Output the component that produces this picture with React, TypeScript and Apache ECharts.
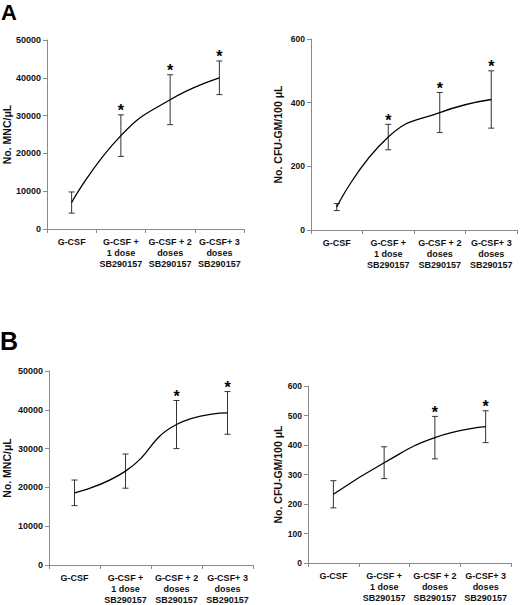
import { useEffect, useRef } from "react";
import * as echarts from "echarts";

const CATEGORIES = [
  "G-CSF",
  "G-CSF +\n1 dose\nSB290157",
  "G-CSF + 2\ndoses\nSB290157",
  "G-CSF+ 3\ndoses\nSB290157",
];

// Panel A
const MNC_A_MEAN = [7000, 24700, 34200, 40000];
const MNC_A_ERR = [2800, 5500, 6600, 4450];
const MNC_A_SIG = [0, 1, 1, 1];

const CFU_A_MEAN = [72, 292, 369, 410];
const CFU_A_ERR = [11, 40, 63, 90];
const CFU_A_SIG = [0, 1, 1, 1];

// Panel B
const MNC_B_MEAN = [18600, 24200, 36200, 39200];
const MNC_B_ERR = [3300, 4400, 6200, 5500];
const MNC_B_SIG = [0, 0, 1, 1];

const CFU_B_MEAN = [233, 340, 425, 462];
const CFU_B_ERR = [46, 54, 72, 54];
const CFU_B_SIG = [0, 0, 1, 1];

const MNC_NAME = "No. MNC/μL";
const CFU_NAME = "No. CFU-GM/100 μL";

const FONT = "'Liberation Sans', Arial, sans-serif";
const AXIS_GREY = "#8a8a8a";

const GRIDS = [
  { left: 47, top: 40, width: 197, height: 189 },
  { left: 311, top: 39, width: 206, height: 191 },
  { left: 49, top: 371, width: 204, height: 194 },
  { left: 308, top: 386, width: 203, height: 177 },
];

const AXES = [
  { max: 50000, interval: 10000, name: MNC_NAME, nameGap: 35, tickSize: 9 },
  { max: 600, interval: 200, name: CFU_NAME, nameGap: 28, tickSize: 8.5 },
  { max: 50000, interval: 10000, name: MNC_NAME, nameGap: 37, tickSize: 9 },
  { max: 600, interval: 100, name: CFU_NAME, nameGap: 25, tickSize: 8.5 },
];

const PANELS = [
  { mean: MNC_A_MEAN, err: MNC_A_ERR, sig: MNC_A_SIG },
  { mean: CFU_A_MEAN, err: CFU_A_ERR, sig: CFU_A_SIG },
  { mean: MNC_B_MEAN, err: MNC_B_ERR, sig: MNC_B_SIG },
  { mean: CFU_B_MEAN, err: CFU_B_ERR, sig: CFU_B_SIG },
];

function errorBarItem(params: any, api: any) {
  const x = api.value(0);
  const top = api.coord([x, api.value(2)]);
  const bot = api.coord([x, api.value(1)]);
  const cap = 3;
  const style = { stroke: "#333", lineWidth: 1 };
  const children: any[] = [
    { type: "line", shape: { x1: top[0], y1: top[1], x2: bot[0], y2: bot[1] }, style },
    { type: "line", shape: { x1: top[0] - cap, y1: top[1], x2: top[0] + cap, y2: top[1] }, style },
    { type: "line", shape: { x1: bot[0] - cap, y1: bot[1], x2: bot[0] + cap, y2: bot[1] }, style },
  ];
  if (api.value(3)) {
    children.push({
      type: "text",
      x: top[0],
      y: top[1] - 4,
      style: {
        text: "*",
        fill: "#000",
        fontSize: 16,
        fontWeight: "bold",
        fontFamily: FONT,
        align: "center",
        verticalAlign: "middle",
      },
    });
  }
  return { type: "group", children };
}

export default function App() {
  const chartRef = useRef<HTMLDivElement>(null);

  useEffect(() => {
    if (!chartRef.current) return;
    const chart = echarts.init(chartRef.current, null, { renderer: "svg" });

    const xAxis = GRIDS.map((_, i) => ({
      type: "category",
      gridIndex: i,
      data: CATEGORIES,
      boundaryGap: true,
      axisLine: { lineStyle: { color: AXIS_GREY, width: 1 } },
      axisTick: { show: true, length: 4, lineStyle: { color: AXIS_GREY } },
      axisLabel: {
        interval: 0,
        color: "#111",
        fontSize: 9,
        fontWeight: "bold",
        fontFamily: FONT,
        lineHeight: 11,
        margin: 7,
      },
    }));

    const yAxis = AXES.map((a, i) => ({
      type: "value",
      gridIndex: i,
      min: 0,
      max: a.max,
      interval: a.interval,
      name: a.name,
      nameLocation: "middle",
      nameRotate: 90,
      nameGap: a.nameGap,
      nameTextStyle: { color: "#111", fontSize: 10.5, fontWeight: "bold", fontFamily: FONT },
      axisLine: { show: true, lineStyle: { color: AXIS_GREY, width: 1 } },
      axisTick: { show: true, length: 4, lineStyle: { color: AXIS_GREY } },
      splitLine: { show: false },
      axisLabel: {
        color: "#111",
        fontSize: a.tickSize,
        fontWeight: "bold",
        fontFamily: FONT,
        margin: 6,
        formatter: (v: number) => String(v),
      },
    }));

    const series: any[] = [];
    PANELS.forEach((p, i) => {
      series.push({
        type: "line",
        xAxisIndex: i,
        yAxisIndex: i,
        data: p.mean,
        smooth: 0.5,
        showSymbol: false,
        symbol: "none",
        lineStyle: { color: "#000", width: 1.3 },
      });
      series.push({
        type: "custom",
        xAxisIndex: i,
        yAxisIndex: i,
        data: p.mean.map((m, j) => [j, m - p.err[j], m + p.err[j], p.sig[j]]),
        encode: { x: 0, y: [1, 2] },
        renderItem: errorBarItem,
        z: 3,
      });
    });

    chart.setOption({
      animation: false,
      backgroundColor: "#fff",
      textStyle: { fontFamily: FONT },
      grid: GRIDS,
      xAxis,
      yAxis,
      series,
      graphic: [
        {
          type: "text",
          left: 1,
          top: 1,
          style: { text: "A", fontSize: 22, fontWeight: "bold", fontFamily: FONT, fill: "#000" },
        },
        {
          type: "text",
          left: 0,
          top: 328,
          style: { text: "B", fontSize: 25, fontWeight: "bold", fontFamily: FONT, fill: "#000" },
        },
      ],
    });

    return () => chart.dispose();
  }, []);

  return (
    <div
      ref={chartRef}
      style={{ position: "absolute", left: 0, top: 0, width: 520, height: 605 }}
    />
  );
}
